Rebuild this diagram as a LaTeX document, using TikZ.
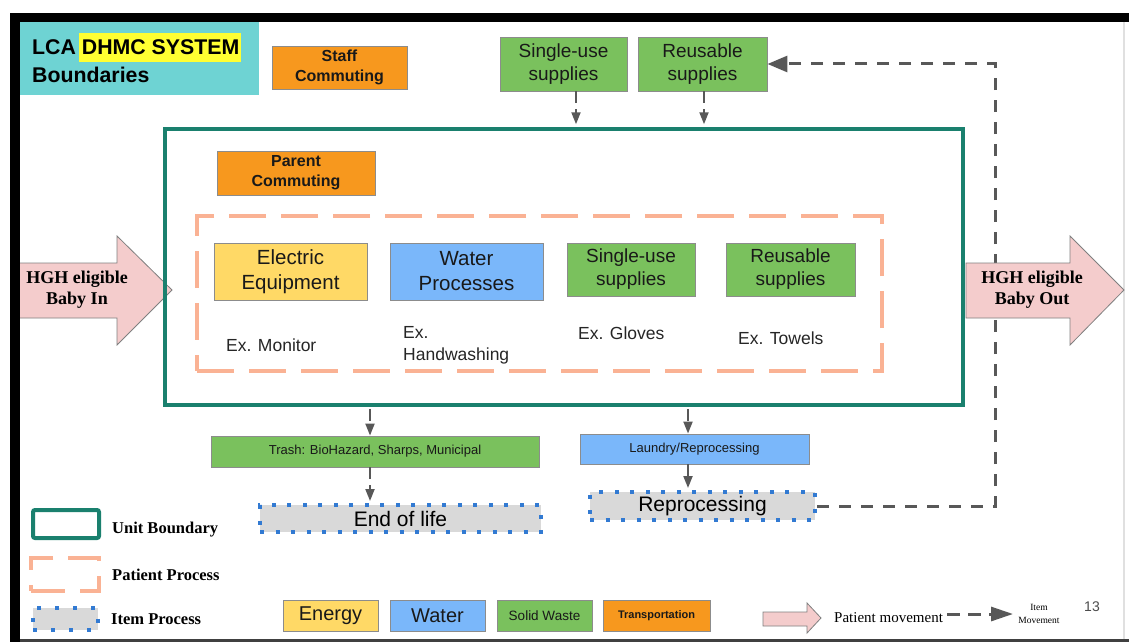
\documentclass[tikz,border=0pt]{standalone}
\usepackage{fontspec}
\setmainfont{Liberation Sans}
\newfontfamily\timesfont{Liberation Serif}
\usetikzlibrary{arrows.meta,positioning}

\definecolor{slidecyan}{RGB}{110,211,211}
\definecolor{markyellow}{RGB}{255,255,50}
\definecolor{transorange}{RGB}{247,152,30}
\definecolor{wastegreen}{RGB}{122,193,93}
\definecolor{waterblue}{RGB}{122,183,250}
\definecolor{energyyellow}{RGB}{255,217,102}
\definecolor{unitteal}{RGB}{26,128,110}
\definecolor{patientsalmon}{RGB}{250,178,148}
\definecolor{babypink}{RGB}{244,204,204}
\definecolor{itemgrey}{RGB}{217,217,217}
\definecolor{itemblue}{RGB}{50,122,210}
\definecolor{flowgrey}{RGB}{88,88,88}

\begin{document}
\begin{tikzpicture}[x=1pt,y=-1pt,
    catbox/.style={draw=black!45,line width=0.9pt,inner sep=0pt,align=center,text=black!90},
    bigtext/.style={font=\fontsize{20.5}{25}\selectfont},
    midtext/.style={font=\fontsize{19}{23}\selectfont},
    smalltext/.style={font=\fontsize{13}{15}\selectfont},
    boldtext/.style={font=\bfseries\fontsize{16}{20}\selectfont},
    extext/.style={font=\fontsize{17.5}{22}\selectfont,anchor=west,inner sep=0pt,align=left,text=black!85},
    itembox/.style={fill=itemgrey,draw=itemblue,line width=4pt,dash pattern=on 4pt off 11.5pt,inner sep=0pt,font=\fontsize{21}{25}\selectfont},
    unitframe/.style={draw=unitteal,line width=3.5pt,inner sep=0pt},
    patientframe/.style={draw=patientsalmon,line width=4pt,dash pattern=on 37pt off 15pt,inner sep=0pt},
    itemflow/.style={draw=flowgrey,line width=2pt,dash pattern=on 12pt off 6pt,-{Triangle[length=12pt,width=9pt]}},
    returnflow/.style={draw=flowgrey,line width=3pt,dash pattern=on 12pt off 10pt,-{Triangle[length=20pt,width=16pt]}},
    babyarrow/.style={fill=babypink,draw=black!50,line width=0.8pt},
    babytext/.style={font=\timesfont\bfseries\fontsize{18}{21}\selectfont,align=center,inner sep=0pt},
    legendtext/.style={font=\timesfont\bfseries\fontsize{16.5}{19}\selectfont,inner sep=0pt}
]

    % slide frame
    \fill[white] (0,0) rectangle (1129,642);

    \fill[black] (10,13) rectangle (1129,22);

    \fill[black!75] (10,639) rectangle (1129,642);

    \draw[black!12,line width=1.5pt] (1124,22) -- (1124,639);

    % title
    \fill[slidecyan] (20,22) rectangle (259,95);

    \fill[markyellow] (79,33) rectangle (241,62);

    \node[anchor=base west,inner sep=0pt,font=\bfseries\fontsize{21.3}{25}\selectfont] (titletop) at (32,55) {LCA DHMC SYSTEM};

    \node[anchor=base west,inner sep=0pt,font=\bfseries\fontsize{21.3}{25}\selectfont] (titlebottom) at (32,82) {Boundaries};

    % boxes above the unit
    \node[catbox,boldtext,fill=transorange,minimum width=135pt,minimum height=43pt] (staff) at (339.5,67.5) {Staff\\Commuting};

    \node[catbox,midtext,fill=wastegreen,minimum width=127pt,minimum height=54pt] (topsingle) at (563.5,64) {Single-use\\supplies};

    \node[catbox,midtext,fill=wastegreen,minimum width=129pt,minimum height=54pt] (topreuse) at (702.5,64) {Reusable\\supplies};

    % return of reusable items
    \node[itembox,minimum width=225pt,minimum height=28pt] (reproc) at (702.5,506) {Reprocessing};

    \coordinate (returnline) at (995,300);

    \draw[returnflow] (reproc.east) -| (returnline) |- (topreuse.east);

    % patient in and out
    \draw[babyarrow] (18,263) -- (117,263) -- (117,236) -- (172,290) -- (117,345) -- (117,318) -- (18,318) -- cycle;

    \node[babytext] (babyin) at (77,290) {HGH eligible\\Baby In};

    \draw[babyarrow] (966,263) -- (1070,263) -- (1070,236) -- (1124,290) -- (1070,345) -- (1070,318) -- (966,318) -- cycle;

    \node[babytext] (babyout) at (1032,290) {HGH eligible\\Baby Out};

    \fill[black] (10,13) rectangle (20,642);

    % unit and patient process
    \node[unitframe,minimum width=798pt,minimum height=276pt] (unit) at (564,267) {};

    \node[patientframe,minimum width=685pt,minimum height=155pt] (patient) at (539.5,293.5) {};

    \node[catbox,boldtext,fill=transorange,minimum width=158pt,minimum height=44pt] (parent) at (296,173) {Parent\\Commuting};

    \node[catbox,bigtext,fill=energyyellow,minimum width=153pt,minimum height=57pt] (elec) at (290.5,271.5) {Electric\\Equipment};

    \node[catbox,bigtext,fill=waterblue,minimum width=153pt,minimum height=57pt] (water) at (466.5,271.5) {Water\\Processes};

    \node[catbox,midtext,fill=wastegreen,minimum width=128pt,minimum height=53pt] (insingle) at (631,269.5) {Single-use\\supplies};

    \node[catbox,midtext,fill=wastegreen,minimum width=129pt,minimum height=53pt] (inreuse) at (790.5,269.5) {Reusable\\supplies};

    \node[extext] (exmonitor) at (226,345) {Ex. Monitor};

    \node[extext] (exhand) at (403,345) {Ex.\\Handwashing};

    \node[extext] (exgloves) at (578,333) {Ex. Gloves};

    \node[extext] (extowels) at (738,338) {Ex. Towels};

    % leaving the unit
    \node[catbox,smalltext,fill=wastegreen,minimum width=328pt,minimum height=31pt] (trash) at (375,451.5) {Trash: BioHazard, Sharps, Municipal};

    \node[catbox,smalltext,fill=waterblue,minimum width=229pt,minimum height=30pt] (laundry) at (694.5,449) {Laundry/Reprocessing};

    \node[itembox,minimum width=281pt,minimum height=27pt] (endlife) at (400.5,518.5) {End of life};

    \draw[itemflow,shorten >=3pt] ([xshift=12.5pt]topsingle.south) -- ([xshift=12.5pt]topsingle.south |- unit.north);

    \draw[itemflow,shorten >=3pt] ([xshift=1.5pt]topreuse.south) -- ([xshift=1.5pt]topreuse.south |- unit.north);

    \draw[itemflow,shorten <=2pt] ([xshift=-5pt]trash.north |- unit.south) -- ([xshift=-5pt]trash.north);

    \draw[itemflow,shorten <=2pt] ([xshift=-6.5pt]laundry.north |- unit.south) -- ([xshift=-6.5pt]laundry.north);

    \draw[itemflow,shorten >=2pt] ([xshift=-5pt]trash.south) -- ([xshift=-5pt]trash.south |- endlife.north);

    \draw[itemflow,solid,shorten >=2pt] ([xshift=-6.5pt]laundry.south) -- ([xshift=-6.5pt]laundry.south |- reproc.north);

    % legend
    \node[unitframe,line width=4pt,rounded corners=2pt,minimum width=66pt,minimum height=28pt] (keyunit) at (66,524) {};

    \node[legendtext,right=11pt of keyunit,yshift=-6pt] (keyunittext) {Unit Boundary};

    \node[patientframe,dash pattern=on 34pt off 15pt,minimum width=68pt,minimum height=33pt] (keypatient) at (65,574.5) {};

    \node[legendtext,right=11pt of keypatient] (keypatienttext) {Patient Process};

    \node[itembox,dash pattern=on 4pt off 14pt,minimum width=65pt,minimum height=22pt] (keyitem) at (65.5,619) {};

    \node[legendtext,right=11pt of keyitem] (keyitemtext) {Item Process};

    \node[catbox,font=\fontsize{20}{24}\selectfont,fill=energyyellow,minimum width=95pt,minimum height=31pt] (keyenergy) at (330.5,615.5) {Energy};

    \node[catbox,font=\fontsize{20}{24}\selectfont,fill=waterblue,minimum width=95pt,minimum height=31pt] (keywater) at (437.5,615.5) {Water};

    \node[catbox,font=\fontsize{13.5}{16}\selectfont,fill=wastegreen,minimum width=95pt,minimum height=31pt] (keywaste) at (544.5,615.5) {Solid Waste};

    \node[catbox,font=\bfseries\fontsize{11}{13}\selectfont,fill=transorange,minimum width=107pt,minimum height=31pt] (keytrans) at (656.5,615.5) {Transportation};

    \draw[babyarrow] (763,612) -- (807,612) -- (807,603) -- (821,618) -- (807,633) -- (807,626) -- (763,626) -- cycle;

    \node[anchor=west,inner sep=0pt,font=\timesfont\fontsize{15}{18}\selectfont] (keypatientmove) at (834,618) {Patient movement};

    \coordinate (keyflowstart) at (947,614);

    \coordinate (keyflowend) at (1013,614);

    \draw[draw=flowgrey,line width=3pt,dash pattern=on 13pt off 8pt,-{Triangle[length=22pt,width=14pt]}] (keyflowstart) -- (keyflowend);

    \node[inner sep=0pt,align=center,font=\timesfont\fontsize{9.5}{13}\selectfont] (keyitemmove) at (1039,614) {Item\\Movement};

    \node[inner sep=0pt,text=black!70,font=\fontsize{14}{16}\selectfont] (pagenumber) at (1092,607) {13};

\end{tikzpicture}
\end{document}
